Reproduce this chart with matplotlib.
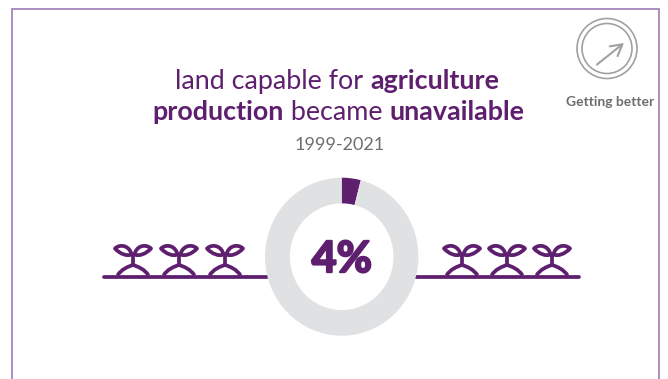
#Infografia: tierra agricola no disponible
import matplotlib
matplotlib.use("Agg")
import matplotlib.pyplot as plt
import matplotlib.patheffects as pe
from matplotlib.patches import Circle, PathPatch
from matplotlib.path import Path

PURPLE = "#5f1f6f"
RING = "#e0e1e3"
BORDER = "#a884bd"
GREY = "#a0a1a4"
TEXT_GREY = "#6d6e71"
W, H = 668, 379

#Datos
donut_labels = ["unavailable", "rest"]
donut_values = [4, 96]
center_label = "4%"
period_label = "1999-2021"
status_label = "Getting better"
title_line1 = [("land capable for ", "normal"), ("agriculture", "bold")]
title_line2 = [("production", "bold"), (" became ", "normal"), ("unavailable", "bold")]

plt.rcParams["font.family"] = ["Lato", "DejaVu Sans"]
fig = plt.figure(figsize=(W / 100, H / 100), dpi=100)

#Lienzo en pixeles para lo decorativo
ax = fig.add_axes([0, 0, 1, 1])
ax.set_xlim(0, W)
ax.set_ylim(H, 0)
ax.axis("off")


#Escribe una linea con partes normales y en negrita, centrada
def texto_mixto(partes, cx, y, size):
    rend = fig.canvas.get_renderer()
    piezas = []
    total = 0
    for s, peso in partes:
        # los espacios al borde no se miden bien, se usa espacio duro
        t = ax.text(0, y, s.replace(" ", "\u00a0"), fontsize=size, fontweight=peso,
                    color=PURPLE, va="baseline", ha="left")
        w = t.get_window_extent(rend).width
        piezas.append((t, w))
        total += w
    x = cx - total / 2
    for t, w in piezas:
        t.set_x(x)
        x += w


#Dibuja una plantita sobre la linea de base
def planta(cx, base):
    lw = 2.7
    ax.plot([cx, cx], [base - 22, base - 10], color=PURPLE, lw=lw, solid_capstyle="butt")
    for lado in (-1, 1):
        # pata de la raiz
        arco = Path([(cx, base - 11.5), (cx + lado * 5, base - 10), (cx + lado * 12, base - 7),
                     (cx + lado * 15.5, base - 1)],
                    [Path.MOVETO, Path.CURVE4, Path.CURVE4, Path.CURVE4])
        ax.add_patch(PathPatch(arco, fill=False, ec=PURPLE, lw=lw, capstyle="butt"))
        # hoja
        hoja = Path([(cx + lado * 1.5, base - 22),
                     (cx + lado * 3, base - 30), (cx + lado * 12, base - 33.5), (cx + lado * 18, base - 28),
                     (cx + lado * 13, base - 22.5), (cx + lado * 6, base - 20), (cx + lado * 1.5, base - 22),
                     (cx + lado * 1.5, base - 22)],
                    [Path.MOVETO, Path.CURVE4, Path.CURVE4, Path.CURVE4,
                     Path.CURVE4, Path.CURVE4, Path.CURVE4, Path.CLOSEPOLY])
        ax.add_patch(PathPatch(hoja, fill=False, ec=PURPLE, lw=lw, joinstyle="round"))


#Marco
ax.plot([11.5, 11.5, 659, 659], [H, 9, 9, H], color=BORDER, lw=1.3, solid_joinstyle="miter")

#Titulo
texto_mixto(title_line1, 337, 89, 19.4)
texto_mixto(title_line2, 338.5, 120, 19.4)
ax.text(340, 145, period_label, fontsize=13, color=TEXT_GREY, ha="center", va="center")

#Icono de tendencia
ax.add_patch(Circle((607, 48.5), 30, fill=False, ec=GREY, lw=1.2))
ax.add_patch(Circle((607, 48.5), 25, fill=False, ec=GREY, lw=1.2))
ax.annotate("", xy=(624, 43), xytext=(597, 64.5),
            arrowprops=dict(arrowstyle="->,head_length=0.8,head_width=0.45", color=GREY, lw=1.5,
                            shrinkA=0, shrinkB=0))
ax.text(610, 102, status_label, fontsize=10, fontweight="bold", color=TEXT_GREY, ha="center", va="center")

#Lineas de base y plantas
ax.plot([104, 267], [276.5, 276.5], color=PURPLE, lw=2.7, solid_capstyle="round")
ax.plot([416, 579], [276.5, 276.5], color=PURPLE, lw=2.7, solid_capstyle="round")
for cx in (133, 179, 225, 462, 507, 552):
    planta(cx, 276.5)

#Dona
cx, cy, rx, ry = 341.7, 256.7, 76.7, 79
ax_d = fig.add_axes([(cx - rx) / W, 1 - (cy + ry) / H, 2 * rx / W, 2 * ry / H])
ax_d.pie(donut_values, colors=[PURPLE, RING], startangle=90, counterclock=False, radius=1,
         wedgeprops=dict(width=0.325, linewidth=0))
ax_d.set_aspect("auto")
ax_d.set_xlim(-1, 1)
ax_d.set_ylim(-1, 1)
ax_d.text(0, -0.03, center_label, fontsize=31, fontweight="bold", color=PURPLE, ha="center", va="center",
          path_effects=[pe.withStroke(linewidth=1.6, foreground=PURPLE)])

plt.savefig("out.png", dpi=100)
